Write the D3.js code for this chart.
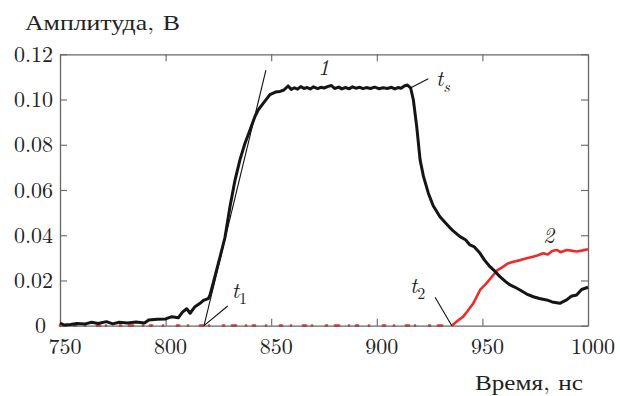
<!DOCTYPE html>
<html>
<head>
<meta charset="utf-8">
<script src="https://cdn.jsdelivr.net/npm/d3@7"></script>
</head>
<body style="margin:0; background:#fff">
<svg id="chart" width="620" height="396"></svg>
<script>
// curve 1 (black): time, ns and amplitude, V
const t1Times = [750, 752, 755, 758, 762, 765, 768, 772, 775, 778, 782, 786, 790, 792, 796, 800, 803, 806, 808, 810, 811.6, 813.9, 816.3, 817.9, 820.2, 821, 822.6, 825.8, 828.1, 830.5, 832.9, 835.2, 837.6, 840, 842.3, 843.9, 846.3, 849.4, 852, 854.2, 856, 858, 859.5, 861, 862.5, 864, 865.5, 867, 868.5, 870, 872, 873.5, 875, 877, 878.5, 880, 882, 883.5, 885, 887, 888.5, 890, 892, 893.5, 895, 897, 899, 901, 903, 905, 907, 908.5, 910, 911.5, 913, 914.5, 916, 917.3, 918.9, 920.5, 922.1, 924.4, 926.7, 929.9, 933, 936, 939.4, 942, 944.1, 946, 948.9, 951, 953.6, 956, 958.3, 961, 963.1, 965, 967.8, 971, 974.1, 977, 980.4, 983, 986.7, 988, 989.9, 992, 994.6, 997, 1000];
const t1Values = [0.0012, 0.0003, 0.0005, 0.001, 0.0008, 0.0015, 0.001, 0.0018, 0.0008, 0.0015, 0.0012, 0.0016, 0.0012, 0.0025, 0.0028, 0.003, 0.004, 0.0035, 0.006, 0.0075, 0.0055, 0.0084, 0.0099, 0.0112, 0.012, 0.0135, 0.019, 0.0305, 0.039, 0.0527, 0.0645, 0.0733, 0.0807, 0.0866, 0.0925, 0.0955, 0.0984, 0.1022, 0.1033, 0.1036, 0.1042, 0.106, 0.1045, 0.1052, 0.1046, 0.1057, 0.1049, 0.1053, 0.1047, 0.1056, 0.1048, 0.1054, 0.1051, 0.1058, 0.1062, 0.1049, 0.1055, 0.1047, 0.1053, 0.1048, 0.1056, 0.105, 0.1054, 0.1048, 0.1053, 0.1049, 0.1055, 0.1048, 0.1052, 0.1049, 0.1054, 0.1047, 0.1053, 0.105, 0.106, 0.1064, 0.1052, 0.0999, 0.088, 0.0733, 0.066, 0.0586, 0.053, 0.0482, 0.045, 0.042, 0.0394, 0.038, 0.0357, 0.035, 0.032, 0.029, 0.0261, 0.024, 0.0217, 0.0195, 0.018, 0.0172, 0.0158, 0.014, 0.0128, 0.012, 0.0114, 0.0105, 0.0099, 0.0105, 0.0114, 0.013, 0.0136, 0.016, 0.017];

// curve 2 (red)
const t2Times = [750, 935.5, 938, 940.9, 943, 945.7, 948.9, 952, 955.2, 957, 959.9, 962, 964.6, 968, 971, 974, 976, 978.8, 981, 983, 985.2, 987, 989.9, 992, 994.6, 997, 1000];
const t2Values = [0, 0, 0.002, 0.004, 0.0065, 0.0099, 0.0158, 0.0188, 0.0224, 0.0245, 0.0261, 0.0275, 0.0283, 0.029, 0.0298, 0.0305, 0.031, 0.032, 0.0315, 0.033, 0.0335, 0.0325, 0.0335, 0.0332, 0.0328, 0.0332, 0.0338];

const xTicks = [750, 800, 850, 900, 950, 1000];
const xTickLabels = ["750", "800", "850", "900", "950", "1000"];
const yTicks = [0, 0.02, 0.04, 0.06, 0.08, 0.10, 0.12];
const yTickLabels = ["0", "0.02", "0.04", "0.06", "0.08", "0.10", "0.12"];

// tangent line at the rising edge, through t1
const tangentT = [818.2, 847.5];
const tangentV = [0, 0.113];

const font = "'Latin Modern Roman', 'Liberation Serif', serif";
const svg = d3.select("#chart");
const x = d3.scaleLinear().domain([750, 1000]).range([60, 588]);
const y = d3.scaleLinear().domain([0, 0.12]).range([325.7, 54.3]);

const axisColor = "#666";
function styleAxis(g) {
	g.select(".domain").attr("stroke", axisColor).attr("stroke-width", 1.3);
	g.selectAll(".tick line").attr("stroke", axisColor).attr("stroke-width", 1.1);
	g.selectAll("text").style("font-size", "22px").style("font-family", font).attr("fill", "#222");
}

// frame with inward ticks
svg.append("g")
	.attr("transform", "translate(0," + y(0.12) + ")")
	.call(d3.axisTop(x).tickValues(xTicks).tickSizeInner(-7).tickSizeOuter(0).tickFormat(""))
	.call(styleAxis);
svg.append("g")
	.attr("transform", "translate(" + x(1000) + ",0)")
	.call(d3.axisRight(y).tickValues(yTicks).tickSizeInner(-7).tickSizeOuter(0).tickFormat(""))
	.call(styleAxis);
svg.append("g")
	.attr("transform", "translate(" + x(750) + ",0)")
	.call(d3.axisLeft(y).tickValues(yTicks).tickSizeInner(-7).tickSizeOuter(0).tickPadding(7)
		.tickFormat((d, i) => yTickLabels[i]))
	.call(styleAxis)
	.selectAll("text").attr("dx", d => d === 0 ? -7 : 0);

// red baseline (noise around zero, shows as broken dots)
const red0 = t2Times.filter((d, i) => t2Values[i] === 0);
svg.append("line")
	.attr("x1", x(red0[0])).attr("x2", x(red0[red0.length - 1]))
	.attr("y1", y(0)).attr("y2", y(0))
	.attr("stroke", "#ee2b2b")
	.attr("stroke-width", 2.8)
	.attr("stroke-linecap", "round")
	.attr("stroke-dasharray", "0,14,2,9,0,12,3,6,0,14,1,8,4,10,0,7,2,11");

svg.append("g")
	.attr("transform", "translate(0," + y(0) + ")")
	.call(d3.axisBottom(x).tickValues(xTicks).tickSizeInner(-7).tickSizeOuter(0).tickPadding(13)
		.tickFormat((d, i) => xTickLabels[i]))
	.call(styleAxis)
	.selectAll("text").attr("dx", 4.5);

const line = d3.line().x(d => x(d[0])).y(d => y(d[1]));

// tangent
svg.append("path")
	.datum(d3.zip(tangentT, tangentV))
	.attr("d", line)
	.attr("fill", "none")
	.attr("stroke", "#111")
	.attr("stroke-width", 1.1);

// red rising part
const redIdx = t2Times.findIndex((d, i) => i > 0 && t2Values[i] === 0);
svg.append("path")
	.datum(d3.zip(t2Times, t2Values).slice(redIdx))
	.attr("d", line)
	.attr("fill", "none")
	.attr("stroke", "#ee2b2b")
	.attr("stroke-width", 2.6)
	.attr("stroke-linejoin", "round");

svg.append("path")
	.datum(d3.zip(t1Times, t1Values))
	.attr("d", line)
	.attr("fill", "none")
	.attr("stroke", "#151515")
	.attr("stroke-width", 3)
	.attr("stroke-linejoin", "round");

// leader lines
const leaders = [
	[[818.2, 0], [829.4, 0.0087]],
	[[935.5, 0], [927.6, 0.0126]],
	[[915.7, 0.105], [924.4, 0.1092]]
];
leaders.forEach(l => {
	svg.append("path").datum(l).attr("d", line)
		.attr("fill", "none").attr("stroke", "#111").attr("stroke-width", 1.1);
});

function label(px, py) {
	return svg.append("text").attr("x", px).attr("y", py)
		.style("font-family", font).style("font-size", "22px").attr("fill", "#222");
}

// labels with subscripts
function tLabel(tx, vy, sub) {
	const t = label(x(tx), y(vy));
	t.append("tspan").style("font-style", "italic").text("t");
	t.append("tspan").style("font-size", "16px").attr("dy", 6)
		.style("font-style", sub === "s" ? "italic" : "normal").text(sub);
}
tLabel(831.3, 0.0121, "1");
tLabel(915.7, 0.0143, "2");
tLabel(928, 0.1061, "s");

label(x(872.2), y(0.111)).style("font-style", "italic").text("1");
label(x(978.7), y(0.0366)).style("font-style", "italic").text("2");

// axis titles
label(25, 30).attr("textLength", 155).attr("lengthAdjust", "spacingAndGlyphs").text("Амплитуда, В");
label(583, 390).attr("text-anchor", "end").attr("textLength", 108).attr("lengthAdjust", "spacingAndGlyphs").text("Время, нс");
</script>
</body>
</html>
